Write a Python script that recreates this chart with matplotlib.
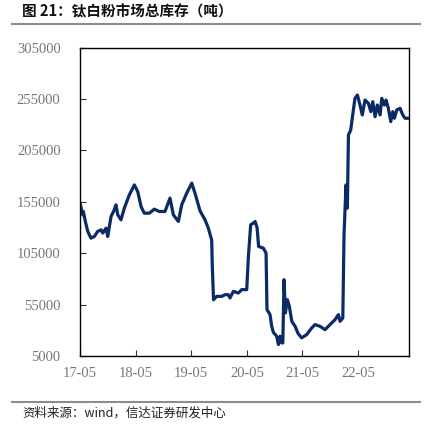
"""钛白粉市场总库存 line chart (recreated)."""

import matplotlib
matplotlib.use("Agg")
import matplotlib.pyplot as plt
import matplotlib.dates as mdates
import pandas as pd
from matplotlib.lines import Line2D


# ── data ─────────────────────────────────────────────────────────────────

dates = [
    "2017-05-01", "2017-05-19", "2017-05-23", "2017-06-05", "2017-06-21",
    "2017-07-12", "2017-08-03", "2017-08-25", "2017-09-16", "2017-09-27",
    "2017-10-19", "2017-10-30", "2017-11-21", "2017-12-12", "2017-12-23",
    "2018-01-04", "2018-01-25", "2018-02-16", "2018-03-21", "2018-04-23",
    "2018-05-15", "2018-06-06", "2018-06-27", "2018-07-30", "2018-09-01",
    "2018-10-04", "2018-11-10", "2018-12-13", "2019-01-04", "2019-02-06",
    "2019-02-28", "2019-04-02", "2019-05-05", "2019-05-26", "2019-06-28",
    "2019-07-31", "2019-08-22", "2019-09-13", "2019-09-17", "2019-09-25",
    "2019-10-16", "2019-11-18", "2019-12-10", "2019-12-31", "2020-01-11",
    "2020-02-02", "2020-03-06", "2020-03-28", "2020-04-30", "2020-05-11",
    "2020-05-26", "2020-06-12", "2020-06-24", "2020-07-07", "2020-07-17",
    "2020-08-17", "2020-09-04", "2020-09-10", "2020-09-30", "2020-10-11",
    "2020-10-22", "2020-11-13", "2020-11-24", "2020-12-05", "2020-12-16",
    "2020-12-23", "2020-12-31", "2021-01-09", "2021-01-22", "2021-02-04",
    "2021-02-20", "2021-03-14", "2021-04-02", "2021-04-26", "2021-05-29",
    "2021-07-01", "2021-07-23", "2021-08-25", "2021-09-26", "2021-10-29",
    "2021-12-01", "2021-12-23", "2022-01-03", "2022-01-21", "2022-01-29",
    "2022-02-05", "2022-02-11", "2022-02-20", "2022-02-27", "2022-03-14",
    "2022-03-27", "2022-04-11", "2022-04-27", "2022-05-14", "2022-05-29",
    "2022-06-16", "2022-07-08", "2022-07-24", "2022-08-06", "2022-08-21",
    "2022-09-05", "2022-09-23", "2022-10-04", "2022-10-21", "2022-11-01",
    "2022-11-16", "2022-12-02", "2022-12-15", "2022-12-26", "2023-01-10",
    "2023-02-01", "2023-02-19", "2023-03-06", "2023-03-28",
]

inventory = [
    153700, 142400, 145600, 135900, 126200,
    119700, 121300, 126200, 127800, 124600,
    129400, 121300, 140800, 147200, 152100,
    142400, 137500, 148900, 161800, 171500,
    165000, 150400, 144000, 144000, 147900,
    145600, 145600, 158600, 142400, 135900,
    152100, 163500, 173200, 163500, 146400,
    137500, 129400, 117700, 91800, 59800,
    63100, 63100, 64700, 64700, 61500,
    67900, 66300, 69600, 69600, 101900,
    132700, 134300, 135900, 130000, 111600,
    110000, 105200, 50100, 45400, 34000,
    28000, 24300, 16200, 24300, 17800,
    17800, 79300, 46900, 59800, 53300,
    38800, 33900, 27000, 22700, 25900,
    32400, 35600, 33900, 30700, 35600,
    40400, 45300, 38800, 42100, 122900,
    148900, 171500, 148900, 220000, 224900,
    239500, 255700, 258900, 249200, 239500,
    254000, 250800, 242700, 252400, 237800,
    249200, 239500, 255700, 249200, 254000,
    246000, 233000, 242700, 236300, 244300,
    246000, 239500, 236300, 236300,
]

y_ticks = [5000, 55000, 105000, 155000, 205000, 255000, 305000]
x_ticks = ["2017-05-01", "2018-05-01", "2019-05-01",
           "2020-05-01", "2021-05-01", "2022-05-01"]

title = "图 21：钛白粉市场总库存（吨）"
source = "资料来源：wind，信达证券研发中心"


# ── style ─────────────────────────────────────────────────────────────────

LINE_COLOR = "#0B2A66"
TICK_COLOR = "#777777"
RULE_COLOR = "#8C8C8C"
CJK = ["Noto Sans CJK SC", "DejaVu Sans"]


# ── plot ──────────────────────────────────────────────────────────────────

def main() -> None:
    fig = plt.figure(figsize=(4.24, 4.29), dpi=100)
    ax = fig.add_axes([0.1887, 0.170, 0.776, 0.719])

    x = pd.to_datetime(dates)
    ax.plot(x, inventory, color=LINE_COLOR, linewidth=2.3,
            solid_joinstyle="round")

    ax.set_ylim(5000, 305000)
    ax.set_xlim(pd.Timestamp("2017-05-01"), pd.Timestamp("2023-04-01"))
    ax.set_yticks(y_ticks)
    ax.set_yticklabels([str(v) for v in y_ticks])
    ax.set_xticks(pd.to_datetime(x_ticks))
    ax.xaxis.set_major_formatter(mdates.DateFormatter("%y-%m"))

    for lbl in ax.get_xticklabels() + ax.get_yticklabels():
        lbl.set_family("Liberation Serif")
        lbl.set_fontsize(10.5)
        lbl.set_color(TICK_COLOR)

    ax.tick_params(axis="both", direction="in", length=4, width=0.8,
                   color="#333333")
    ax.tick_params(axis="y", pad=14)
    ax.tick_params(axis="x", pad=8)
    for spine in ax.spines.values():
        spine.set_linewidth(1.0)
        spine.set_color("black")

    # header / footer
    fig.text(22 / 424, 1 - 11 / 429, title, family=CJK, fontsize=10.5,
             fontweight="bold", color="#111111", va="center", ha="left")
    fig.add_artist(Line2D([12 / 424, 420 / 424], [1 - 23.5 / 429] * 2,
                          color=RULE_COLOR, linewidth=1.5))
    fig.add_artist(Line2D([12 / 424, 420 / 424], [1 - 401.5 / 429] * 2,
                          color=RULE_COLOR, linewidth=1.5))
    fig.text(22 / 424, 1 - 413 / 429, source, family=CJK, fontsize=9,
             style="italic", color="#222222", va="center", ha="left")

    fig.savefig("out.png", dpi=100)
    plt.close(fig)


if __name__ == "__main__":
    main()
